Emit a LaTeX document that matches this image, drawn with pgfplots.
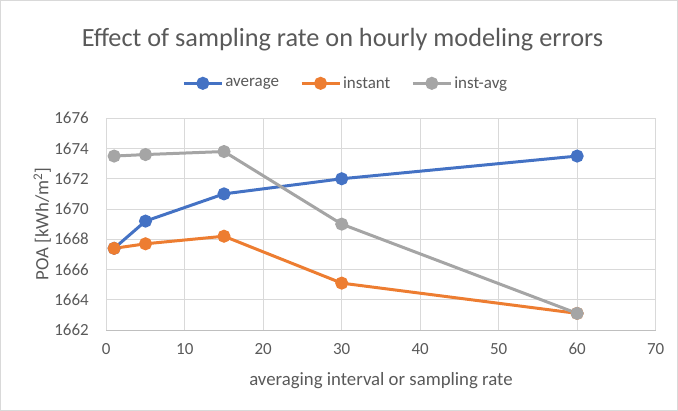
\documentclass[border=0pt]{standalone}
\usepackage{fontspec}
\setmainfont{Carlito}
\usepackage{pgfplots}
\pgfplotsset{compat=1.18}

\definecolor{cblue}{HTML}{4472C4}
\definecolor{corange}{HTML}{ED7D31}
\definecolor{cgray}{HTML}{A5A5A5}
\definecolor{txt}{HTML}{595959}
\definecolor{gridc}{HTML}{D9D9D9}
\definecolor{axc}{HTML}{BFBFBF}

\begin{document}
\begin{tikzpicture}
\begin{axis}[
  scale only axis, width=550pt, height=212pt,
  xmin=0, xmax=70, ymin=1662, ymax=1676,
  xtick={0,10,...,70}, ytick={1662,1664,...,1676},
  axis x line*=bottom, axis y line*=left,
  x axis line style={draw=axc, line width=1pt, -},
  y axis line style={draw=none},
  major tick length=0pt,
  grid=major, grid style={draw=gridc, line width=0.9pt},
  /pgf/number format/assume math mode=true,
  /pgf/number format/1000 sep={},
  tick label style={font=\fontsize{17}{19}\selectfont, text=txt},
  yticklabel style={xshift=-14pt},
  xticklabel style={yshift=-10pt},
  xlabel={averaging interval or sampling rate},
  ylabel={POA [kWh/m\textsuperscript{2}]},
  label style={font=\fontsize{18.8}{21}\selectfont, text=txt},
  xlabel style={at={(axis description cs:0.5,-0.24)}, anchor=center},
  ylabel style={at={(axis description cs:-0.1164,0.5)}, anchor=center},
  title={Effect of sampling rate on hourly modeling errors},
  title style={font=\fontsize{26.3}{29}\selectfont, text=txt, at={(0.43,1.345)}, anchor=center},
  legend columns=3,
  legend style={at={(0.436,1.165)}, anchor=center, draw=none,
    font=\fontsize{17}{19}\selectfont, text=txt,
    /tikz/every even column/.append style={column sep=19pt}},
  legend image code/.code={
    \draw[#1, mark=none] (0pt,0pt) -- (38pt,0pt);
    \path[#1] plot coordinates {(19pt,0pt)};
  },
  every axis plot/.append style={line width=3pt, mark=*, mark size=5pt, mark options={line width=0pt}},
  clip=false,
]
\addplot[color=cblue, mark options={fill=cblue, draw=cblue}] coordinates {
  (1,1667.4) (5,1669.2) (15,1671.0) (30,1672.0) (60,1673.5)
};
\addplot[color=corange, mark options={fill=corange, draw=corange}] coordinates {
  (1,1667.4) (5,1667.7) (15,1668.2) (30,1665.1) (60,1663.1)
};
\addplot[color=cgray, mark options={fill=cgray, draw=cgray}] coordinates {
  (1,1673.5) (5,1673.6) (15,1673.8) (30,1669.0) (60,1663.1)
};
\legend{average, instant, inst-avg}
\end{axis}
\draw[draw=gridc, line width=0.8pt, use as bounding box]
  ([xshift=-106pt, yshift=-80pt]current axis.south west) rectangle ([xshift=22pt, yshift=118pt]current axis.north east);
\end{tikzpicture}
\end{document}
